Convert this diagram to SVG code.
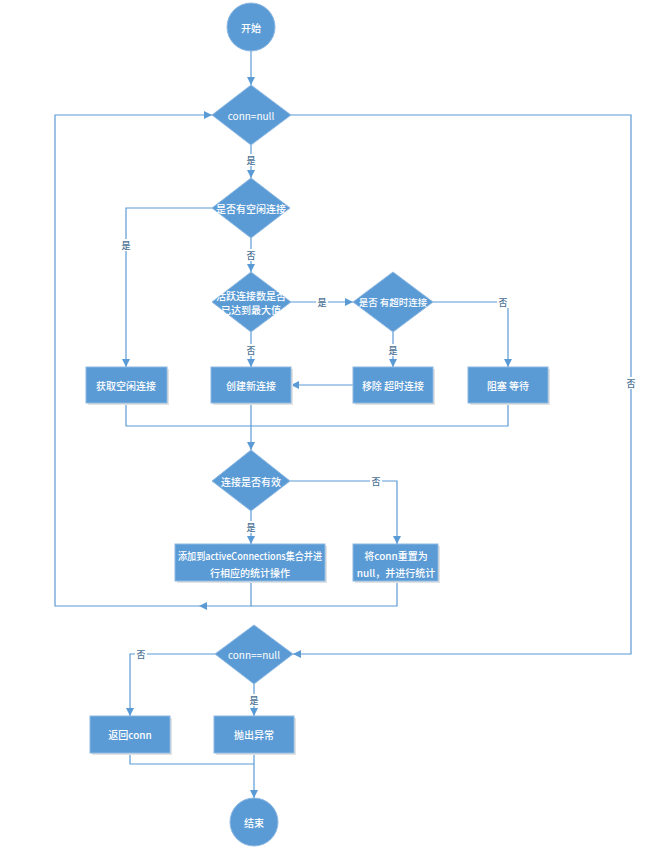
<svg xmlns="http://www.w3.org/2000/svg" width="670" height="852" viewBox="0 0 670 852">
<style>
.n{fill:#5B9BD5;stroke:#8DB8E2;stroke-width:1}
.b{fill:#5B9BD5;stroke:#8DB8E2;stroke-width:1}
.sh{fill:#e3e3e3}
.t{fill:#fff;font-family:"Noto Sans CJK SC","Liberation Sans",sans-serif;font-size:10px;font-weight:500;text-anchor:middle;dominant-baseline:central}
.e{fill:none;stroke:#5B9BD5;stroke-width:1.2}
.lb{fill:#fff}
.l{fill:#4A6F94;font-family:"Noto Sans CJK SC","Liberation Sans",sans-serif;font-size:9px;font-weight:500;text-anchor:middle;dominant-baseline:central}
</style>
<defs>
<marker id="a" markerWidth="8" markerHeight="8" refX="8" refY="4" orient="auto" markerUnits="userSpaceOnUse">
<path d="M0,0 L8,4 L0,8 z" fill="#5B9BD5"/>
</marker>
</defs>
<rect width="670" height="852" fill="#fff"/>
<g id="connectors">
<path class="e" d="M251,51 V85" marker-end="url(#a)"/>
<path class="e" d="M251,145 V178" marker-end="url(#a)"/>
<path class="e" d="M212,208 H126 V367" marker-end="url(#a)"/>
<path class="e" d="M251,238 V272" marker-end="url(#a)"/>
<path class="e" d="M291,302 H353" marker-end="url(#a)"/>
<path class="e" d="M433,302 H508 V367" marker-end="url(#a)"/>
<path class="e" d="M251,332 V367" marker-end="url(#a)"/>
<path class="e" d="M393,332 V367" marker-end="url(#a)"/>
<path class="e" d="M353,385 H291" marker-end="url(#a)"/>
<path class="e" d="M126,403 V426 H508 V403"/>
<path class="e" d="M251,403 V450" marker-end="url(#a)"/>
<path class="e" d="M290,481 H397 V544" marker-end="url(#a)"/>
<path class="e" d="M251,511 V544" marker-end="url(#a)"/>
<path class="e" d="M251,582 V606 H199" marker-end="url(#a)"/>
<path class="e" d="M397,582 V606 H251"/>
<path class="e" d="M199,606 H55 V115 H212" marker-end="url(#a)"/>
<path class="e" d="M291,115 H631 V654 H293" marker-end="url(#a)"/>
<path class="e" d="M215,654 H130 V716" marker-end="url(#a)"/>
<path class="e" d="M254,684 V716" marker-end="url(#a)"/>
<path class="e" d="M130,753 V764 H254"/>
<path class="e" d="M254,753 V798" marker-end="url(#a)"/>
<rect class="lb" x="245" y="154" width="12" height="12"/><text class="l" x="251" y="160">是</text>
<rect class="lb" x="120" y="239" width="12" height="12"/><text class="l" x="126" y="245">是</text>
<rect class="lb" x="245" y="249" width="12" height="12"/><text class="l" x="251" y="255">否</text>
<rect class="lb" x="316" y="296" width="12" height="12"/><text class="l" x="322" y="302">是</text>
<rect class="lb" x="497" y="296" width="12" height="12"/><text class="l" x="503" y="302">否</text>
<rect class="lb" x="245" y="344" width="12" height="12"/><text class="l" x="251" y="350">否</text>
<rect class="lb" x="387" y="344" width="12" height="12"/><text class="l" x="393" y="350">是</text>
<rect class="lb" x="625" y="377" width="12" height="12"/><text class="l" x="631" y="383">否</text>
<rect class="lb" x="370" y="475" width="12" height="12"/><text class="l" x="376" y="481">否</text>
<rect class="lb" x="245" y="521" width="12" height="12"/><text class="l" x="251" y="527">是</text>
<rect class="lb" x="135" y="648" width="12" height="12"/><text class="l" x="141" y="654">否</text>
<rect class="lb" x="248" y="694" width="12" height="12"/><text class="l" x="254" y="700">是</text>
</g>
<g id="start"><circle class="n" cx="251" cy="27" r="24"/><text class="t" x="251" y="27">开始</text></g>
<g id="d1"><polygon class="n" points="251,85 291,115 251,145 212,115"/><text class="t" x="251" y="115" style="font-weight:normal">conn=null</text></g>
<g id="d2"><polygon class="n" points="251,178 290,208 251,238 212,208"/><text class="t" x="251" y="208">是否有空闲连接</text></g>
<g id="d3"><polygon class="n" points="251,272 291,302 251,332 212,302"/><text class="t" x="251" y="295">活跃连接数是否</text><text class="t" x="251" y="309">已达到最大值</text></g>
<g id="d4"><polygon class="n" points="393,272 433,302 393,332 353,302"/><text class="t" x="393" y="302" style="font-size:9.5px">是否 有超时连接</text></g>
<g id="b1"><rect class="sh" x="88" y="369" width="81" height="36"/><rect class="b" x="86" y="367" width="81" height="36"/><text class="t" x="126" y="385">获取空闲连接</text></g>
<g id="b2"><rect class="sh" x="213" y="369" width="80" height="36"/><rect class="b" x="211" y="367" width="80" height="36"/><text class="t" x="251" y="385">创建新连接</text></g>
<g id="b3"><rect class="sh" x="355" y="369" width="80" height="36"/><rect class="b" x="353" y="367" width="80" height="36"/><text class="t" x="393" y="385">移除 超时连接</text></g>
<g id="b4"><rect class="sh" x="470" y="369" width="80" height="36"/><rect class="b" x="468" y="367" width="80" height="36"/><text class="t" x="508" y="385">阻塞 等待</text></g>
<g id="d5"><polygon class="n" points="251,450 290,481 251,511 212,481"/><text class="t" x="251" y="481">连接是否有效</text></g>
<g id="b5"><rect class="sh" x="177" y="546" width="150" height="37"/><rect class="b" x="175" y="544" width="150" height="37"/><text class="t" x="250" y="555" textLength="144" lengthAdjust="spacingAndGlyphs">添加到activeConnections集合并进</text><text class="t" x="250" y="572">行相应的统计操作</text></g>
<g id="b6"><rect class="sh" x="355" y="546" width="85" height="37"/><rect class="b" x="353" y="544" width="85" height="37"/><text class="t" x="396" y="555">将conn重置为</text><text class="t" x="396" y="572">null，并进行统计</text></g>
<g id="d6"><polygon class="n" points="254,625 293,654 254,684 215,654"/><text class="t" x="254" y="654" style="font-weight:normal">conn==null</text></g>
<g id="b7"><rect class="sh" x="92" y="718" width="80" height="37"/><rect class="b" x="90" y="716" width="80" height="37"/><text class="t" x="130" y="734">返回conn</text></g>
<g id="b8"><rect class="sh" x="216" y="718" width="80" height="37"/><rect class="b" x="214" y="716" width="80" height="37"/><text class="t" x="254" y="734">抛出异常</text></g>
<g id="end"><circle class="n" cx="254" cy="822" r="24"/><text class="t" x="254" y="822">结束</text></g>
</svg>
